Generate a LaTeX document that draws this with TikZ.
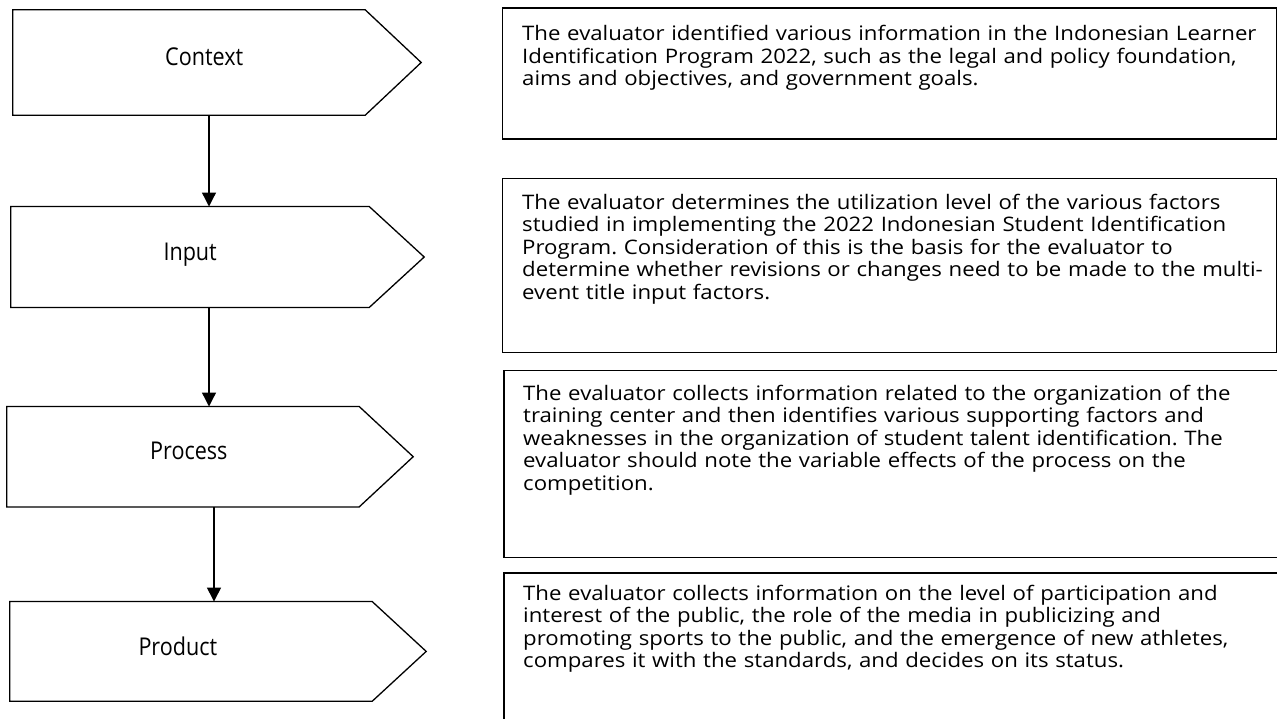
\documentclass[tikz,border=0pt]{standalone}
\usepackage{fontspec}
\setmainfont{Open Sans}
\newfontfamily\stagefont[FakeStretch=0.88]{Open Sans}
\newfontfamily\notefont[FakeStretch=1.11]{Open Sans}
\frenchspacing
\usetikzlibrary{arrows.meta,calc}

\begin{document}
\begin{tikzpicture}[x=1pt,y=-1pt,
  stage/.style={minimum width=#1, minimum height=105pt, inner sep=0pt},
  edge/.style={line width=1.3pt, line join=miter},
  stagetext/.style={anchor=base west, inner sep=0pt, font=\stagefont\fontsize{24.5}{28}\selectfont},
  flow/.style={line width=1.3pt, -{Triangle[width=14pt,length=14pt]}},
  note/.style={draw, line width=1.4pt, inner sep=0pt, anchor=north west},
  notetext/.style={anchor=base west, inner sep=0pt, text width=760pt, align=left,
    font=\notefont\fontsize{20}{22.5}\selectfont}]

\useasboundingbox (0,0) rectangle (1277,718);

% the four stages
\node[stage=352pt] (ctx) at (189,62.5) {};
\node[stage=358pt, minimum height=100.6pt] (inp) at (190,257) {};
\node[stage=352pt, minimum height=100pt] (prc) at (183,456.7) {};
\node[stage=362pt, minimum height=99.3pt] (prd) at (191,651.4) {};

\draw[edge] (ctx.north west) -- (ctx.north east) -- ($(ctx.east)+(56,0)$) -- (ctx.south east) -- (ctx.south west) -- cycle;
\draw[edge] (inp.north west) -- (inp.north east) -- ($(inp.east)+(55,0)$) -- (inp.south east) -- (inp.south west) -- cycle;
\draw[edge] (prc.north west) -- (prc.north east) -- ($(prc.east)+(54,0)$) -- (prc.south east) -- (prc.south west) -- cycle;
\draw[edge] (prd.north west) -- (prd.north east) -- ($(prd.east)+(54,0)$) -- (prd.south east) -- (prd.south west) -- cycle;

\node[stagetext] (ctx-t) at (165,65) {Context};
\node[stagetext] (inp-t) at (163.3,260) {Input};
\node[stagetext] (prc-t) at (150,459.3) {Process};
\node[stagetext] (prd-t) at (138.3,655) {Product};

\coordinate (a1) at (209,0);
\coordinate (a2) at (214,0);
\draw[flow] (ctx.south -| a1) -- (inp.north -| a1);
\draw[flow] (inp.south -| a1) -- (prc.north -| a1);
\draw[flow] (prc.south -| a2) -- (prd.north -| a2);

% descriptions
\node[note, minimum width=774pt, minimum height=131pt] (d1) at (502,7.3) {};
\node[note, minimum width=774pt, minimum height=174.3pt] (d2) at (502,177.7) {};
\node[note, minimum width=800pt, minimum height=186.7pt] (d3) at (503.3,370) {};
\node[note, minimum width=800pt, minimum height=200pt] (d4) at (503.3,572.3) {};

\node[notetext] (d1-t) at (522,40.7) {The evaluator identified various information in the Indonesian Learner\\
Identification Program 2022, such as the legal and policy foundation,\\
aims and objectives, and government goals.};
\node[notetext] (d2-t) at (522,209.3) {The evaluator determines the utilization level of the various factors\\
studied in implementing the 2022 Indonesian Student Identification\\
Program. Consideration of this is the basis for the evaluator to\\
determine whether revisions or changes need to be made to the multi-\\
event title input factors.};
\node[notetext] (d3-t) at (523,400) {The evaluator collects information related to the organization of the\\
training center and then identifies various supporting factors and\\
weaknesses in the organization of student talent identification. The\\
evaluator should note the variable effects of the process on the\\
competition.};
\node[notetext] (d4-t) at (523,600) {The evaluator collects information on the level of participation and\\
interest of the public, the role of the media in publicizing and\\
promoting sports to the public, and the emergence of new athletes,\\
compares it with the standards, and decides on its status.};

\end{tikzpicture}
\end{document}
